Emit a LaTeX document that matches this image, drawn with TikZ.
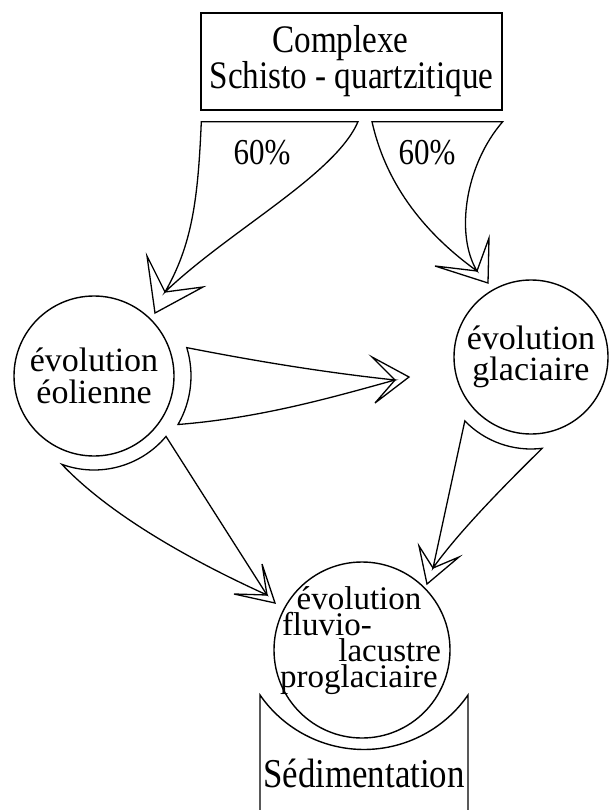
\documentclass[tikz,border=0pt]{standalone}
\usepackage{fontspec}
\setmainfont{Liberation Serif}
\newfontfamily\tallfont{Liberation Serif}[FakeStretch=0.85]
\usetikzlibrary{calc}
\tikzset{
  stage/.style={draw, circle, line width=1.4pt, inner sep=0pt, align=center,
                font=\fontsize{34}{32}\selectfont},
  fatarrow/.style={draw, line width=1.3pt, line join=miter, miter limit=8},
  chevron/.style={draw, line width=1.3pt, line join=miter, miter limit=8},
  pct/.style={font=\tallfont\fontsize{36.5}{36}\selectfont, inner sep=0pt}
}

\begin{document}
\begin{tikzpicture}[x=1pt, y=-1pt]
  \useasboundingbox[fill=white] (0,0) rectangle (611,810);
  % Source rock
  \node[draw, line width=1.4pt, minimum width=301pt, minimum height=97pt, align=center,
        font=\tallfont\fontsize{39}{36}\selectfont] (cplx) at (351.5,61.5)
        {Complexe\hspace*{22pt}\\Schisto - quartzitique};
  % Evolution stages
  \node[stage, minimum size=160pt] (eol) at (94,376) {évolution\\éolienne};
  \node[stage, minimum size=154pt, font=\fontsize{34}{31}\selectfont] (glac) at (531,357)
        {évolution\\glaciaire};
  \node[stage, minimum size=176pt] (fluv) at (362,650) {};
  \node[font=\fontsize{33}{26}\selectfont, align=center, anchor=base,
        inner sep=0pt] (fluvtxt) at (359,687)
        {\makebox[164pt][c]{évolution}\\\makebox[164pt][l]{\hspace*{5pt}fluvio-}\\
         \makebox[164pt][r]{lacustre}\\\makebox[164pt][c]{proglaciaire}};
  % Sedimentation basin
  \draw[line width=1.4pt] (260,810) -- (260,695)
        arc[start angle=145.3, end angle=34.7, radius=126.5] -- (468,810);
  \node[font=\tallfont\fontsize{41}{41}\selectfont, anchor=base, inner sep=0pt] (sed)
        at (364,787) {Sédimentation};

  % Arrow tips (notches)
  \coordinate (n1) at (165,292);
  \coordinate (n2) at (477,271);
  \coordinate (n3) at (395,380);
  \coordinate (n4) at (267,595);
  \coordinate (n5) at (433,568);
  % Arrow bases
  \coordinate (t1l) at ($(cplx.south west)+(1,11)$);
  \coordinate (t1r) at ($(cplx.south)+(6.5,11)$);
  \coordinate (t2l) at ($(cplx.south)+(20.5,11)$);
  \coordinate (t2r) at ($(cplx.south east)+(0,11)$);
  \coordinate (b3) at ($(eol.center)+(30:97)$);
  \coordinate (b4) at ($(eol.center)+(40:94)$);
  \coordinate (b5) at ($(glac.center)+(83:92)$);

  % Complexe -> eolienne (60%)
  \draw[fatarrow] (t1l) -- (t1r) .. controls (335,175) and (230,230) .. (n1)
        .. controls (192,245) and (198,200) .. (t1l) -- cycle;
  \draw[chevron] (147,256) -- (n1) -- (203,287) -- (155,313) -- cycle;
  \node[pct] (p1) at (262,153) {60\%};
  % Complexe -> glaciaire (60%)
  \draw[fatarrow] (t2l) -- (t2r) .. controls (465,165) and (455,235) .. (n2)
        .. controls (420,230) and (385,180) .. (t2l) -- cycle;
  \draw[chevron] (435,266) -- (n2) -- (489,238) -- (488,283) -- cycle;
  \node[pct] (p2) at (427,153) {60\%};
  % eolienne -> glaciaire
  \draw[fatarrow] (b3) arc[start angle=30, end angle=-17, radius=97]
        .. controls (250,360) and (320,372) .. (n3)
        .. controls (330,398) and (260,418) .. (b3) -- cycle;
  \draw[chevron] (372,357) -- (n3) -- (375,403) -- (409,377) -- cycle;
  % eolienne -> fluvio-lacustre
  \draw[fatarrow] (b4) arc[start angle=40, end angle=110, radius=94]
        .. controls (110,515) and (190,560) .. (n4) -- cycle;
  \draw[chevron] (262,564) -- (n4) -- (234,594) -- (275,603) -- cycle;
  % glaciaire -> fluvio-lacustre
  \draw[fatarrow] (b5) arc[start angle=83, end angle=136, radius=92] -- (n5)
        .. controls (460,530) and (510,480) .. (b5) -- cycle;
  \draw[chevron] (419,546) -- (n5) -- (459,557) -- (427,584) -- cycle;
\end{tikzpicture}
\end{document}
